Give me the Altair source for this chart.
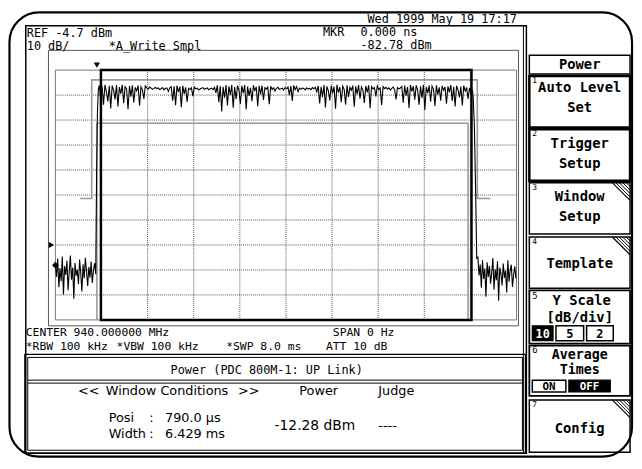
import altair as alt
import pandas as pd

SWEEP_MS = 8.0          # span 0 Hz, sweep 8.0 ms -> 0.8 ms/div
REF_DBM = -4.7          # reference level (top of grid)
BOTTOM_DBM = -104.7     # 10 dB/div x 10 div

GRID_T = [0.8, 1.6, 2.4, 3.2, 4.0, 4.8, 5.6, 6.4, 7.2]
GRID_P = [-14.7, -24.7, -34.7, -44.7, -54.7, -64.7, -74.7, -84.7, -94.7]

NOISE_DT = 0.02   # trace sample spacing in the off-burst noise (ms)
BURST_DT = 0.025  # trace sample spacing inside the burst (ms)

NOISE_LEFT_T0 = 0.0
NOISE_LEFT = [-82.8, -87.5, -80.1, -91.6, -84.0, -89.2, -79.3, -94.5, -83.1, -86.7,
              -81.0, -92.8, -85.4, -78.9, -88.6, -83.7, -96.2, -81.9, -87.0, -84.6,
              -90.4, -80.5, -86.1, -93.3, -82.4, -88.0, -79.8, -85.2, -91.1, -83.5,
              -87.8, -81.3, -89.9, -84.8, -82.0, -86.4]

RISE_T = [0.715, 0.730, 0.745]
RISE_P = [-46.0, -21.0, -12.5]

BURST_T0 = 0.76
BURST = [
    -10.8, -15.9, -11.2, -18.6, -10.6, -13.4, -17.2, -11.0, -20.1, -10.9,
    -12.8, -16.4, -10.7, -19.3, -11.5, -14.1, -10.6, -18.0, -11.3, -12.2,
    -20.4, -11.1, -15.3, -10.8, -17.7, -11.6, -13.0, -10.9, -19.0, -11.4,
    -12.6, -16.2, -11.0, -11.8, -12.3, -11.5, -11.9, -12.4, -12.0, -11.6,
    -12.1, -11.8, -12.5, -12.2, -11.7, -12.6, -12.0, -11.9, -13.2, -11.8,
    -11.4, -16.9, -11.2, -18.8, -10.9, -13.5, -11.3, -19.6, -11.0, -14.2,
    -11.6, -17.4, -12.0, -12.5, -11.8, -15.1, -11.5, -12.2, -11.9, -12.7,
    -12.3, -12.0, -11.7, -12.4, -12.1, -11.8, -12.6, -12.2, -11.9, -12.5,
    -11.6, -13.8, -10.8, -17.5, -11.1, -21.3, -11.4, -15.7, -10.7, -18.9,
    -11.2, -14.6, -10.6, -19.8, -11.5, -16.3, -10.9, -12.8, -18.2, -11.0,
    -13.9, -10.7, -20.5, -11.3, -15.0, -11.8, -17.1, -10.8, -12.9, -11.4,
    -19.2, -11.0, -14.4, -10.9, -16.6, -11.7, -12.3, -11.5, -18.4, -11.2,
    -12.5, -11.8, -13.1, -12.0, -11.6, -12.4, -12.2, -11.9, -12.7, -11.7,
    -12.2, -11.5, -14.7, -11.1, -17.0, -10.8, -12.6, -11.3, -13.3, -11.9,
    -12.4, -11.9, -12.1, -12.6, -11.8, -12.3, -12.0, -12.5, -11.7, -12.2,
    -11.6, -13.4, -11.0, -18.1, -11.4, -15.5, -10.7, -19.7, -11.2, -12.9,
    -16.8, -10.9, -14.0, -11.3, -20.2, -10.6, -13.7, -11.5, -17.6, -11.1,
    -12.4, -18.5, -10.8, -15.4, -11.6, -12.8, -10.9, -19.4, -11.2, -14.3,
    -10.7, -16.1, -11.4, -12.6, -17.9, -11.0, -13.6, -10.8, -20.0, -11.3,
    -12.2, -11.7, -15.2, -11.1, -12.5, -11.9, -18.7, -11.3, -12.1, -11.6,
    -12.3, -11.8, -12.7, -12.0, -11.5, -12.4, -16.4, -11.7, -12.2, -11.9,
    -11.3, -17.8, -10.9, -14.9, -11.5, -19.9, -10.7, -13.2, -11.1, -16.5,
    -10.8, -12.7, -18.6, -11.2, -15.8, -10.6, -20.7, -11.4, -13.9, -10.9,
    -17.3, -11.1, -12.4, -19.1, -10.8, -14.5, -11.6, -16.9, -11.0, -12.8,
    -11.5, -18.2, -11.2, -13.6, -10.7, -17.0, -11.4, -19.3, -11.0, -12.5,
    -15.6, -11.3, -18.9, -10.9, -13.1, -11.6, -16.2, -11.8, -14.0, -12.6,
]

FALL_T = [7.250, 7.270, 7.290, 7.310]
FALL_P = [-16.0, -28.0, -52.0, -80.0]

NOISE_RIGHT_T0 = 7.33
NOISE_RIGHT = [-79.6, -86.9, -82.5, -91.8, -80.7, -88.3, -84.1, -95.4, -81.6, -87.5,
               -83.0, -90.2, -85.7, -79.9, -92.6, -84.4, -88.8, -81.2, -97.0, -83.8,
               -86.2, -90.9, -82.1, -87.9, -85.0, -93.7, -80.8, -89.4, -84.9, -82.6,
               -91.5, -86.6, -83.3, -88.1]

# power-vs-time template (PDC 800M-1 up link)
UPPER_T = [0.43, 0.63, 0.63, 7.32, 7.32, 7.55]
UPPER_P = [-56.1, -56.1, -8.6, -8.6, -56.1, -56.1]
LOWER_T = [0.72, 0.72, 7.16, 7.16]
LOWER_P = [BOTTOM_DBM, -26.0, -26.0, BOTTOM_DBM]

POSI_MS = 0.790
WIDTH_MS = 6.429
MKR_T, MKR_P = 0.0, -82.78
TRIG_T = 0.72
LEVEL_P = -74.7

# ---------------- build trace table ----------------
tt, pp = [], []
for i, v in enumerate(NOISE_LEFT):
    tt.append(NOISE_LEFT_T0 + i * NOISE_DT); pp.append(v)
tt += RISE_T; pp += RISE_P
for i, v in enumerate(BURST):
    tt.append(BURST_T0 + i * BURST_DT); pp.append(v)
tt += FALL_T; pp += FALL_P
for i, v in enumerate(NOISE_RIGHT):
    tt.append(NOISE_RIGHT_T0 + i * NOISE_DT); pp.append(v)
trace_df = pd.DataFrame({"t": tt, "p": pp, "i": range(len(tt))})

# ---------------- layout ----------------
W, H = 467, 253
OX, OY = 56, 68          # page position of plot-area origin
SVG_W, SVG_H = 634, 453
PAD = {"left": OX - 8, "top": OY - 8,
       "right": SVG_W - (OX - 8) - W, "bottom": SVG_H - (OY - 8) - H}

xs = alt.Scale(domain=[0, SWEEP_MS], nice=False, zero=False)
ys = alt.Scale(domain=[BOTTOM_DBM, REF_DBM], nice=False, zero=False)
X = lambda f: alt.X(f, type="quantitative", scale=xs, axis=None)
Y = lambda f: alt.Y(f, type="quantitative", scale=ys, axis=None)

def px(v):
    return v - OX

def py(v):
    return v - OY

layers = []

# outer rounded bezel
layers.append(alt.Chart(pd.DataFrame({"a": [0]})).mark_rect(
    cornerRadius=30, fillOpacity=0, stroke="black", strokeWidth=2.2).encode(
    x=alt.value(px(9.5)), x2=alt.value(px(640)), y=alt.value(py(9.5)), y2=alt.value(py(459.5))))

# chrome rectangles: page coords
BTN_L, BTN_R = 536, 638
rects = [
    # x0, y0, x1, y1, stroke width, fill, stroke
    (26, 23, 533, 456, 1.5, "transparent", "black"),       # screen
    (49, 48, 525, 327, 1.0, "transparent", "#555555"),     # graph frame
    (25, 356, 532, 456, 1.2, "transparent", "black"),      # result panel
    (28, 359, 529, 453, 1.0, "transparent", "black"),
    (BTN_L, 53, BTN_R, 72, 1.5, "transparent", "black"),   # "Power" title
    (BTN_L, 74, BTN_R, 126, 2.5, "transparent", "black"),
    (BTN_L, 128, BTN_R, 180, 2.5, "transparent", "black"),
    (BTN_L, 182, BTN_R, 234, 1.5, "transparent", "black"),
    (BTN_L, 237, BTN_R, 289, 1.5, "transparent", "black"),
    (BTN_L, 291, BTN_R, 345, 1.8, "transparent", "black"),
    (BTN_L, 347, BTN_R, 398, 1.8, "transparent", "black"),
    (BTN_L, 402, BTN_R, 455, 1.5, "transparent", "black"),
    (539, 327, 560, 342, 1.2, "black", "black"),            # 10
    (563, 327, 591, 342, 1.5, "white", "black"),            # 5
    (594, 327, 621, 342, 1.5, "white", "black"),            # 2
    (539, 382, 573, 394, 1.5, "white", "black"),            # ON
    (576, 382, 618, 394, 1.2, "black", "black"),            # OFF
]
rect_df = pd.DataFrame([{"x": px(a), "y": py(b), "x2": px(c), "y2": py(d),
                         "sw": e, "fill": f, "stroke": g} for a, b, c, d, e, f, g in rects])
layers.append(alt.Chart(rect_df).mark_rect().encode(
    x=alt.X("x:Q", scale=None), x2="x2:Q", y=alt.Y("y:Q", scale=None), y2="y2:Q",
    fill=alt.Fill("fill:N", scale=None), stroke=alt.Stroke("stroke:N", scale=None),
    strokeWidth=alt.StrokeWidth("sw:Q", scale=None)))

# chrome lines
lines = [
    (530, 23, 530, 456, 1.0),
    (28, 382, 529, 382, 1.0),
    (28, 385, 529, 385, 1.0),
]
for top in (182, 237, 402):   # menu buttons: hatched corner
    lines.append((BTN_R - 18, top, BTN_R, top + 18, 1.2))
    for k in (1, 2, 3, 4):
        lines.append((BTN_R - 18 + 3.5 * k, top, BTN_R, top + 18 - 3.5 * k, 1.0))
line_df = pd.DataFrame([{"x": px(a), "y": py(b), "x2": px(c), "y2": py(d), "sw": e}
                        for a, b, c, d, e in lines])
layers.append(alt.Chart(line_df).mark_rule(color="black").encode(
    x=alt.X("x:Q", scale=None), x2="x2:Q", y=alt.Y("y:Q", scale=None), y2="y2:Q",
    strokeWidth=alt.StrokeWidth("sw:Q", scale=None)))

# grid
layers.append(alt.Chart(pd.DataFrame({"t": GRID_T})).mark_rule(
    color="#555555", strokeDash=[1, 1], strokeWidth=1).encode(x=X("t")))
layers.append(alt.Chart(pd.DataFrame({"p": GRID_P})).mark_rule(
    color="#555555", strokeDash=[1, 1], strokeWidth=1).encode(y=Y("p")))
layers.append(alt.Chart(pd.DataFrame({"t0": [0.0], "t1": [SWEEP_MS], "p0": [BOTTOM_DBM], "p1": [REF_DBM]}))
              .mark_rect(fillOpacity=0, stroke="#777777", strokeWidth=1)
              .encode(x=X("t0"), x2="t1", y=Y("p0"), y2="p1"))

# template
up_df = pd.DataFrame({"t": UPPER_T, "p": UPPER_P, "i": range(len(UPPER_T))})
lo_df = pd.DataFrame({"t": LOWER_T, "p": LOWER_P, "i": range(len(LOWER_T))})
for d in (up_df, lo_df):
    layers.append(alt.Chart(d).mark_line(color="#9a9a9a", strokeWidth=1.6).encode(
        x=X("t"), y=Y("p"), order="i:Q"))

# measurement window
layers.append(alt.Chart(pd.DataFrame({"t0": [POSI_MS], "t1": [POSI_MS + WIDTH_MS],
                                      "p0": [BOTTOM_DBM], "p1": [REF_DBM]}))
              .mark_rect(fillOpacity=0, stroke="black", strokeWidth=2.5)
              .encode(x=X("t0"), x2="t1", y=Y("p0"), y2="p1"))

# trace
layers.append(alt.Chart(trace_df).mark_line(color="black", strokeWidth=1.1).encode(
    x=X("t"), y=Y("p"), order="i:Q"))

# markers
layers.append(alt.Chart(pd.DataFrame({"t": [MKR_T], "p": [MKR_P]})).mark_point(
    shape="diamond", filled=True, color="black", size=45, opacity=1).encode(x=X("t"), y=Y("p")))
layers.append(alt.Chart(pd.DataFrame({"t": [TRIG_T]})).mark_point(
    shape="triangle-down", filled=True, color="black", size=40, opacity=1).encode(
    x=X("t"), y=alt.value(-5)))
layers.append(alt.Chart(pd.DataFrame({"p": [LEVEL_P]})).mark_point(
    shape="triangle-right", filled=True, color="black", size=40, opacity=1).encode(
    x=alt.value(-4), y=Y("p")))

# ---------------- texts ----------------
MONO = "DejaVu Sans Mono"
SANS = "DejaVu Sans"

def text_layer(rows, font, align, weight="normal"):
    df = pd.DataFrame([{"t": r[0], "x": px(r[1]), "y": py(r[2]), "s": r[3],
                        "c": r[4] if len(r) > 4 else "black"} for r in rows])
    return alt.Chart(df).mark_text(font=font, align=align, baseline="middle",
                                   fontWeight=weight).encode(
        x=alt.X("x:Q", scale=None), y=alt.Y("y:Q", scale=None), text="t:N",
        size=alt.Size("s:Q", scale=None), color=alt.Color("c:N", scale=None))

layers.append(text_layer([
    ("REF -4.7 dBm", 27, 30, 12), ("10 dB/", 27, 44, 12), ("*A_Write Smpl", 110, 44, 12),
    ("MKR", 327, 29, 12), ("0.000 ns", 365, 29, 12), ("-82.78 dBm", 365, 42.5, 12),
    ("Wed 1999 May 19 17:17", 372, 16, 12),
    ("CENTER 940.000000 MHz", 26, 334, 11.5), ("SPAN 0 Hz", 337, 334, 11.5),
    ("*RBW 100 kHz", 26, 348, 11.5), ("*VBW 100 kHz", 118, 348, 11.5),
    ("*SWP 8.0 ms", 229, 348, 11.5), ("ATT 10 dB", 330, 348, 11.5),
    ("1", 539, 79, 8), ("2", 539, 133, 8), ("3", 539, 187, 8), ("4", 539, 242, 8),
    ("5", 539, 297, 9), ("6", 539, 352, 9), ("7", 539, 407, 8),
], MONO, "left"))

layers.append(text_layer([
    ("Power (PDC 800M-1: UP Link)", 270, 372, 12),
], MONO, "center"))

layers.append(text_layer([
    ("Power", 587, 63, 14), ("Auto Level", 587, 86, 14), ("Set", 587, 106, 14),
    ("Trigger", 587, 143, 14), ("Setup", 587, 163, 14),
    ("Window", 587, 197, 14), ("Setup", 587, 217, 14),
    ("Template", 587, 264, 14),
    ("Y Scale", 589, 302, 14), ("[dB/div]", 587, 319, 14),
    ("Average", 587, 357, 13.5), ("Times", 587, 371.5, 13.5),
    ("Config", 587, 432, 14),
], MONO, "center", "bold"))

layers.append(text_layer([
    ("10", 549.5, 335, 12, "white"), ("5", 577, 335, 12), ("2", 607.5, 335, 12),
    ("ON", 556, 388.5, 11), ("OFF", 597, 388.5, 11, "white"),
], MONO, "center", "bold"))

layers.append(text_layer([
    ("<<", 79, 393, 13), ("Window Conditions", 107, 393, 13), (">>", 241, 393, 13),
    ("Power", 303, 393, 13), ("Judge", 383, 393, 13),
    ("Posi", 110, 420, 13), (":", 151, 420, 13), ("790.0 \u00b5s", 167, 420, 13),
    ("Width", 110, 437, 13), (":", 151, 437, 13), ("6.429 ms", 167, 437, 13),
    ("-12.28 dBm", 278, 429, 14), ("----", 383, 429, 13),
], SANS, "left"))

chart = alt.layer(*layers).properties(
    width=W, height=H, padding=PAD,
    autosize=alt.AutoSizeParams(type="none"),
    background="white",
).configure_view(stroke=None)

chart.save("out.html", embed_options={"renderer": "svg", "actions": False})
